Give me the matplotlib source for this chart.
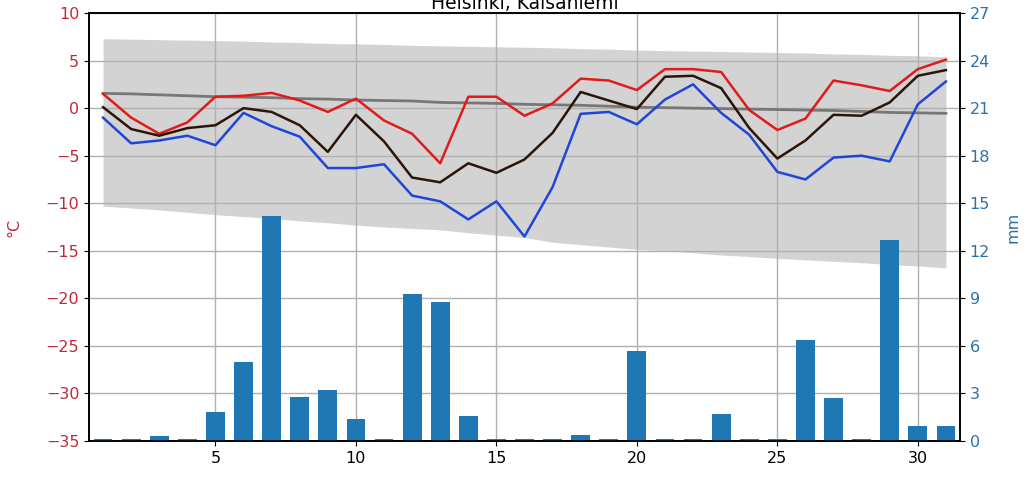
#!/usr/bin/env python3
"""
Helsinki Kaisaniemi daily weather - temperature and precipitation.
"""

import matplotlib
matplotlib.use('Agg')
import matplotlib.pyplot as plt
import numpy as np

# ============ DATA ============
days = list(range(1, 32))

t_max = [1.5, -1.0, -2.7, -1.5, 1.2, 1.3, 1.6, 0.8, -0.4, 1.0, -1.3, -2.7, -5.8, 1.2,
         1.2, -0.8, 0.5, 3.1, 2.9, 1.9, 4.1, 4.1, 3.8, -0.2, -2.3, -1.1, 2.9, 2.4,
         1.8, 4.1, 5.1]
t_mean = [0.1, -2.2, -2.9, -2.1, -1.8, 0.0, -0.4, -1.8, -4.6, -0.7, -3.5, -7.3, -7.8,
          -5.8, -6.8, -5.4, -2.6, 1.7, 0.8, -0.1, 3.3, 3.4, 2.1, -2.1, -5.3, -3.4,
          -0.7, -0.8, 0.6, 3.4, 4.0]
t_min = [-1.0, -3.7, -3.4, -2.9, -3.9, -0.5, -1.9, -3.0, -6.3, -6.3, -5.9, -9.2, -9.8,
         -11.7, -9.8, -13.5, -8.3, -0.6, -0.4, -1.7, 0.9, 2.5, -0.5, -2.8, -6.7,
         -7.5, -5.2, -5.0, -5.6, 0.4, 2.8]

# climatological mean and range
clim_mean = [1.55, 1.5, 1.4, 1.3, 1.2, 1.15, 1.1, 1.0, 0.95, 0.85, 0.8, 0.75, 0.6,
             0.55, 0.5, 0.4, 0.35, 0.3, 0.2, 0.1, 0.05, 0.0, -0.05, -0.1, -0.15,
             -0.2, -0.25, -0.35, -0.45, -0.5, -0.55]
clim_high = [7.3, 7.25, 7.2, 7.15, 7.1, 7.05, 6.95, 6.9, 6.8, 6.75, 6.7, 6.6, 6.55,
             6.5, 6.45, 6.4, 6.35, 6.25, 6.2, 6.1, 6.05, 6.0, 5.95, 5.9, 5.85,
             5.8, 5.7, 5.65, 5.55, 5.5, 5.4]
clim_low = [-10.3, -10.5, -10.7, -10.95, -11.2, -11.4, -11.6, -11.85, -12.05, -12.3,
            -12.5, -12.65, -12.8, -13.1, -13.35, -13.6, -14.1, -14.35, -14.6, -14.85,
            -15.0, -15.2, -15.45, -15.6, -15.8, -15.95, -16.1, -16.25, -16.45,
            -16.6, -16.8]

precip = [0.15, 0.15, 0.3, 0.15, 1.8, 5.0, 14.2, 2.8, 3.2, 1.4, 0.15, 9.3, 8.8, 1.6,
          0.15, 0.15, 0.15, 0.35, 0.15, 5.7, 0.15, 0.15, 1.7, 0.15, 0.15, 6.4, 2.7,
          0.15, 12.7, 0.95, 0.95]

# ============ COLORS ============
colors = {
    'max': '#e01b1b',
    'mean': '#2b1408',
    'min': '#1f46d6',
    'clim': '#777777',
    'band': '#d3d3d3',
    'bar': '#1f77b4',
    'temp_label': '#c42836',
    'mm_label': '#2b72a8',
}

# ============ FIGURE ============
fig = plt.figure(figsize=(10.34, 4.84), dpi=100)
ax = fig.add_axes([0.0861, 0.0888, 0.9284 - 0.0861, 0.9731 - 0.0888])

ax.fill_between(days, clim_low, clim_high, color=colors['band'], linewidth=0, zorder=1)
ax.plot(days, clim_mean, color=colors['clim'], linewidth=2.0, zorder=2)
ax.plot(days, t_max, color=colors['max'], linewidth=1.8, zorder=3)
ax.plot(days, t_mean, color=colors['mean'], linewidth=1.8, zorder=3)
ax.plot(days, t_min, color=colors['min'], linewidth=1.8, zorder=3)

ax.set_xlim(0.5, 31.5)
ax.set_ylim(-35, 10)
ax.set_yticks(np.arange(-35, 11, 5))
ax.set_xticks([5, 10, 15, 20, 25, 30])
ax.grid(True, color='#b0b0b0', linewidth=1.0)
ax.tick_params(axis='y', labelcolor=colors['temp_label'], labelsize=11.5)
ax.tick_params(axis='x', labelsize=11.5)
ax.set_ylabel('°C', color=colors['temp_label'], fontsize=11.5, labelpad=17)
ax.set_title('Helsinki, Kaisaniemi', fontsize=13.5, pad=3)

# precipitation on twin axis
ax2 = ax.twinx()
ax2.bar(days, precip, width=0.67, color=colors['bar'], zorder=2)
ax2.set_ylim(0, 27)
ax2.set_yticks(np.arange(0, 28, 3))
ax2.tick_params(axis='y', labelcolor=colors['mm_label'], labelsize=11.5)
ax2.set_ylabel('mm', color=colors['mm_label'], fontsize=11.5, labelpad=11)

for a in (ax, ax2):
    for s in a.spines.values():
        s.set_linewidth(1.2)

plt.savefig('out.png', dpi=100, facecolor='white')
